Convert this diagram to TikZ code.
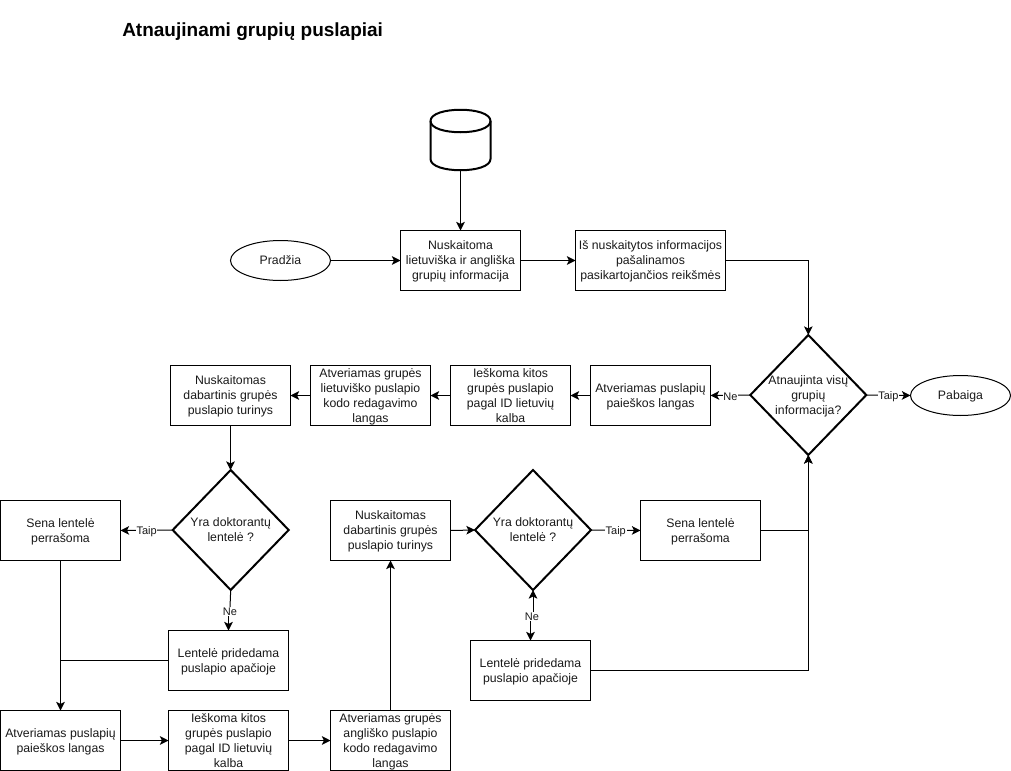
\documentclass[tikz,border=0pt]{standalone}
\usepackage{fontspec}
\setmainfont{Liberation Sans}
\usetikzlibrary{arrows.meta,shapes.geometric,calc}
\tikzset{
  x=0.75pt,y=-0.75pt,
  base/.style={font=\fontsize{9.2}{11.25}\selectfont,align=center,inner sep=0pt,outer sep=0pt,text=black!90,text depth=-0.2pt},
  flowbox/.style={base,draw,line width=0.75pt,rectangle,minimum width=90pt,minimum height=45pt},
  widebox/.style={flowbox,minimum width=112.5pt},
  term/.style={base,draw,line width=0.75pt,ellipse,minimum width=75pt,minimum height=30pt},
  decision/.style={draw,line width=1.5pt,diamond,inner sep=0pt,outer sep=0pt,minimum width=87pt,minimum height=90pt},
  dtext/.style={base},
  edgelab/.style={font=\fontsize{8.25}{10}\selectfont,fill=white,inner sep=0.5pt,outer sep=0pt,text=black!90,yshift=-0.8pt},
  conn/.style={line width=0.75pt},
  arr/.style={conn,-{Stealth[inset=1.6pt,length=6.5pt,width=6.5pt]}}
}
\begin{document}
\begin{tikzpicture}
\useasboundingbox (0,0) rectangle (1011,771);
\node[anchor=west,font=\bfseries\fontsize{14.25}{16}\selectfont,inner sep=0pt] (title) at (122,32) {Atnaujinami grupių puslapiai};
% database
\node[minimum width=45pt,minimum height=45pt,inner sep=0pt,outer sep=0pt] (db) at (460.5,140) {};
\draw[line width=1.5pt,line join=round] (430.5,121) .. controls (430.5,106) and (490.5,106) .. (490.5,121)
  -- (490.5,159) .. controls (490.5,174) and (430.5,174) .. (430.5,159) -- cycle;
\draw[line width=1.5pt] (430.5,121) .. controls (430.5,136) and (490.5,136) .. (490.5,121);
% top row
\node[term] (start) at (280.5,260.5) {Pradžia};
\node[flowbox] (read) at (460.5,260.5) {Nuskaitoma\\lietuviška ir angliška\\grupių informacija};
\node[widebox] (dedup) at (650.5,260.5) {Iš nuskaitytos informacijos\\pašalinamos\\pasikartojančios reikšmės};
% second row
\node[decision,label={[dtext]center:Atnaujinta visų\\grupių\\informacija?}] (d1) at (808.3,395) {};
\node[term] (end) at (960.5,395.5) {Pabaiga};
\node[flowbox] (search1) at (650.5,395.5) {Atveriamas puslapių\\paieškos langas};
\node[flowbox] (find1) at (510.5,395.5) {Ieškoma kitos\\grupės puslapio\\pagal ID lietuvių\\kalba};
\node[flowbox] (edit1) at (370.5,395.5) {Atveriamas grupės\\lietuviško puslapio\\kodo redagavimo\\langas};
\node[flowbox] (cur1) at (230.5,395.5) {Nuskaitomas\\dabartinis grupės\\puslapio turinys};
% third row
\node[decision,label={[dtext]center:Yra doktorantų\\lentelė ?}] (d2) at (230.7,530) {};
\node[flowbox] (old1) at (60.5,530.5) {Sena lentelė\\perrašoma};
\node[flowbox] (add1) at (228.5,660.5) {Lentelė pridedama\\puslapio apačioje};
\node[flowbox] (cur2) at (390.5,530.5) {Nuskaitomas\\dabartinis grupės\\puslapio turinys};
\node[decision,label={[dtext]center:Yra doktorantų\\lentelė ?}] (d3) at (533,530) {};
\node[flowbox] (old2) at (700.5,530.5) {Sena lentelė\\perrašoma};
\node[flowbox] (add2) at (530.5,670.5) {Lentelė pridedama\\puslapio apačioje};
% bottom row
\node[flowbox] (search2) at (60.5,740.5) {Atveriamas puslapių\\paieškos langas};
\node[flowbox] (find2) at (228.5,740.5) {Ieškoma kitos\\grupės puslapio\\pagal ID lietuvių\\kalba};
\node[flowbox] (edit2) at (390.5,740.5) {Atveriamas grupės\\angliško puslapio\\kodo redagavimo\\langas};
% connectors
\draw[arr] (db.south) -- (read.north);
\draw[arr] (start.east) -- (read.west);
\draw[arr] (read.east) -- (dedup.west);
\draw[arr] (dedup.east) -| (d1.north);
\draw[arr] (d1.east) -- node[edgelab,pos=0.5]{Taip} (end.west);
\draw[arr] (d1.west) -- node[edgelab,pos=0.5]{Ne} (search1.east);
\draw[arr] (search1.west) -- (find1.east);
\draw[arr] (find1.west) -- (edit1.east);
\draw[arr] (edit1.west) -- (cur1.east);
\draw[arr] (cur1.south) -- (cur1.south |- d2.north);
\draw[arr] (d2.west) -- node[edgelab,pos=0.5]{Taip} (old1.east);
\node[edgelab] (ne2) at (230,610.5) {Ne};
\draw[conn] (d2.south) -- (ne2.north);
\draw[arr] (ne2.south -| add1.north) -- (add1.north);
\draw[arr] (old1.south) -- (search2.north);
\draw[conn] (add1.west) -- (add1.west -| old1.south);
\draw[arr] (search2.east) -- (find2.west);
\draw[arr] (find2.east) -- (edit2.west);
\draw[arr] (edit2.north) -- (cur2.south);
\draw[arr] (cur2.east) -- (d3.west);
\draw[arr] (d3.east) -- node[edgelab,pos=0.5]{Taip} (old2.west);
\node[edgelab] (ne3) at (532,615.5) {Ne};
\draw[arr] (ne3.north -| d3.south) -- (d3.south);
\draw[arr] (ne3.south -| add2.north) -- (add2.north);
\draw[arr] (old2.east) -| (d1.south);
\draw[arr] (add2.east) -| (d1.south);
\end{tikzpicture}
\end{document}
